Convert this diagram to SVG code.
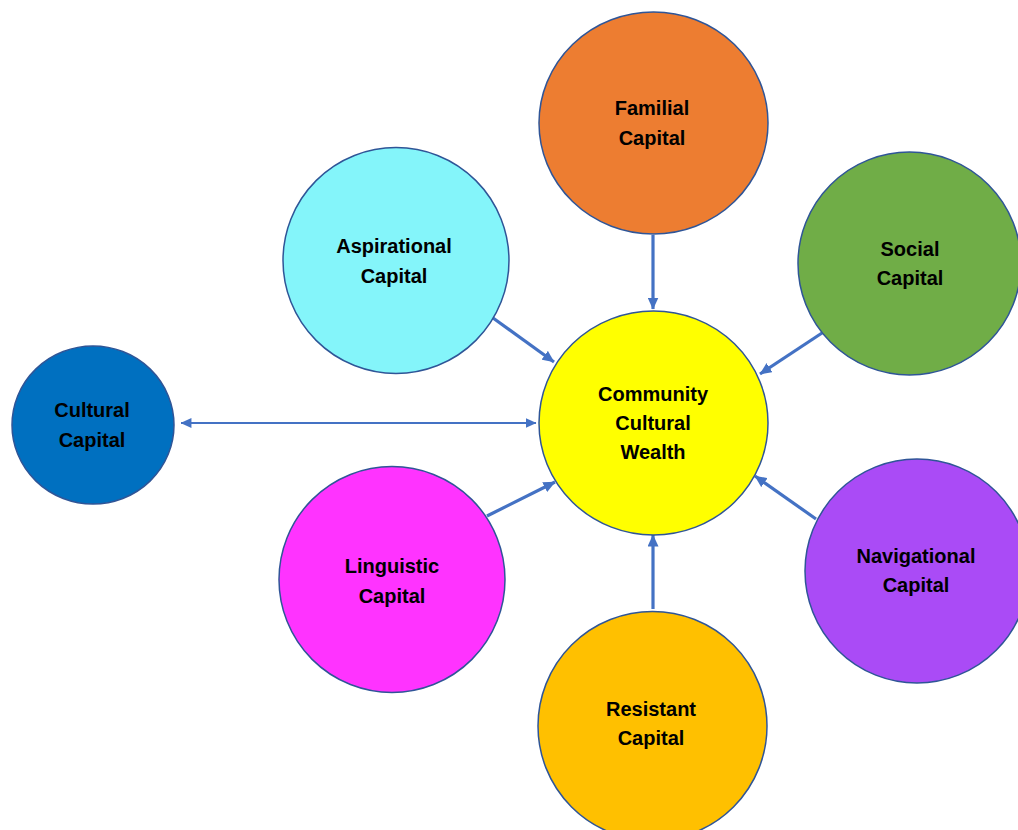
<svg xmlns="http://www.w3.org/2000/svg" width="1018" height="830" viewBox="0 0 1018 830">
<style>
.n{stroke:#2F5597;stroke-width:1.5}
.t{font-family:"Liberation Sans",Arial,sans-serif;font-weight:bold;font-size:20px;fill:#000;text-anchor:middle}
.c{stroke:#4472C4;stroke-width:3.2;fill:none}
.c2{stroke:#4472C4;stroke-width:2.2;fill:none}
</style>
<defs>
<marker id="ah" viewBox="0 0 12 11" refX="11.5" refY="5.5" markerWidth="12" markerHeight="11" markerUnits="userSpaceOnUse" orient="auto">
<path d="M0,0 L12,5.5 L0,11 z" fill="#4472C4"/>
</marker>
<marker id="ahs" viewBox="0 0 12 11" refX="11.5" refY="5.5" markerWidth="11" markerHeight="10" markerUnits="userSpaceOnUse" orient="auto-start-reverse">
<path d="M0,0 L12,5.5 L0,11 z" fill="#4472C4"/>
</marker>
</defs>
<rect width="1018" height="830" fill="#fff"/>
<g id="connectors">
<line class="c" x1="653" y1="235" x2="653" y2="309" marker-end="url(#ah)"/>
<line class="c" x1="493" y1="318" x2="554" y2="362" marker-end="url(#ah)"/>
<line class="c" x1="822" y1="333" x2="760" y2="374" marker-end="url(#ah)"/>
<line class="c2" x1="181" y1="423" x2="536" y2="423" marker-start="url(#ahs)" marker-end="url(#ahs)"/>
<line class="c" x1="487" y1="516" x2="555" y2="482" marker-end="url(#ah)"/>
<line class="c" x1="816" y1="519" x2="755" y2="476" marker-end="url(#ah)"/>
<line class="c" x1="653" y1="609" x2="653" y2="535" marker-end="url(#ah)"/>
</g>
<g id="familial">
<ellipse class="n" cx="653.5" cy="123" rx="114.5" ry="111" fill="#ED7D31"/>
<text class="t" x="652" y="115">Familial</text>
<text class="t" x="652" y="145">Capital</text>
</g>
<g id="aspirational">
<circle class="n" cx="396" cy="260.5" r="113" fill="#84F5FA"/>
<text class="t" x="394" y="253">Aspirational</text>
<text class="t" x="394" y="283">Capital</text>
</g>
<g id="social">
<circle class="n" cx="909.5" cy="263.5" r="111.5" fill="#70AD47"/>
<text class="t" x="910" y="256">Social</text>
<text class="t" x="910" y="285">Capital</text>
</g>
<g id="community">
<ellipse class="n" cx="653.5" cy="423" rx="114.5" ry="112" fill="#FFFF00"/>
<text class="t" x="653" y="401">Community</text>
<text class="t" x="653" y="430">Cultural</text>
<text class="t" x="653" y="459">Wealth</text>
</g>
<g id="cultural">
<ellipse class="n" cx="93" cy="425" rx="81" ry="79" fill="#0070C0"/>
<text class="t" x="92" y="417">Cultural</text>
<text class="t" x="92" y="447">Capital</text>
</g>
<g id="linguistic">
<circle class="n" cx="392" cy="579.5" r="113" fill="#FF33FF"/>
<text class="t" x="392" y="573">Linguistic</text>
<text class="t" x="392" y="603">Capital</text>
</g>
<g id="navigational">
<circle class="n" cx="917" cy="571" r="112" fill="#AA4BF6"/>
<text class="t" x="916" y="563">Navigational</text>
<text class="t" x="916" y="592">Capital</text>
</g>
<g id="resistant">
<circle class="n" cx="652.5" cy="726" r="114.5" fill="#FFC000"/>
<text class="t" x="651" y="716">Resistant</text>
<text class="t" x="651" y="745">Capital</text>
</g>
</svg>
